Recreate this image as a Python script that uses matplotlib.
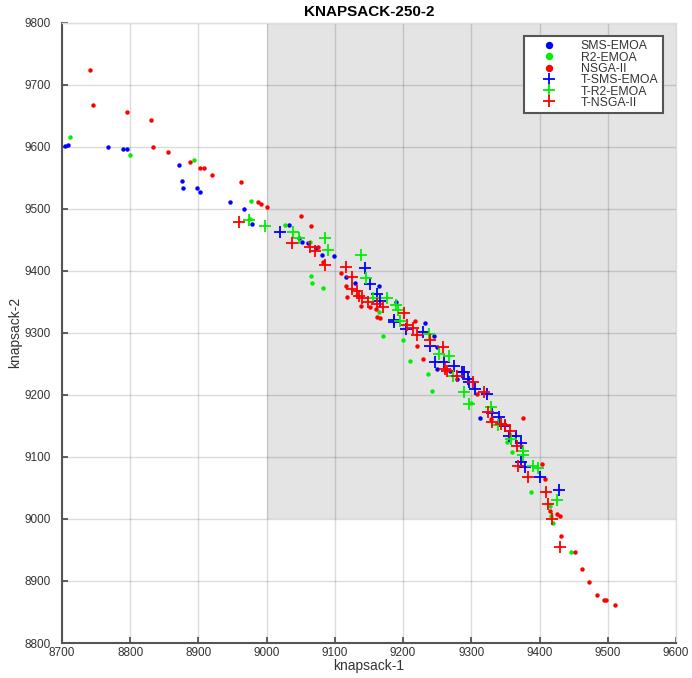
import matplotlib
matplotlib.use("Agg")
import matplotlib.pyplot as plt
from matplotlib.patches import Rectangle
from matplotlib.lines import Line2D

plt.rcParams['font.family'] = ['Liberation Sans', 'DejaVu Sans']

# Final populations (knapsack-1, knapsack-2)
sms_x = [8705, 8709, 8767, 8789, 8795, 8872, 8876, 8878, 8898, 8902, 8946, 8967, 8979,
         9033, 9048, 9052, 9060, 9072, 9081, 9098, 9116, 9129, 9164, 9190, 9232, 9245,
         9249, 9250, 9269, 9279, 9313]
sms_y = [9601, 9603, 9600, 9596, 9596, 9571, 9545, 9534, 9534, 9527, 9510, 9500, 9476,
         9474, 9453, 9447, 9445, 9437, 9425, 9423, 9390, 9381, 9376, 9350, 9315, 9295,
         9277, 9241, 9239, 9225, 9162]

r2_x = [8711, 8800, 8894, 8977, 8975, 9027, 9063, 9065, 9067, 9082, 9132, 9164, 9170,
        9200, 9210, 9236, 9242, 9300, 9352, 9359, 9387, 9416, 9417, 9420, 9446]
r2_y = [9616, 9587, 9579, 9512, 9484, 9474, 9447, 9392, 9381, 9372, 9361, 9334, 9294,
        9288, 9254, 9233, 9206, 9187, 9124, 9108, 9044, 9021, 9005, 8993, 8946]

nsga_x = [8741, 8745, 8796, 8831, 8834, 8856, 8888, 8902, 8908, 8920, 8962, 8987, 8991,
          9001, 9051, 9065, 9075, 9083, 9109, 9116, 9118, 9138, 9152, 9160, 9162, 9166,
          9217, 9220, 9229, 9309, 9329, 9375, 9403, 9408, 9416, 9426, 9430, 9432, 9452,
          9462, 9472, 9484, 9494, 9497, 9510]
nsga_y = [9724, 9667, 9656, 9643, 9600, 9592, 9576, 9565, 9565, 9554, 9543, 9510, 9507,
          9503, 9488, 9472, 9439, 9414, 9396, 9376, 9358, 9343, 9341, 9338, 9325, 9323,
          9319, 9279, 9257, 9202, 9161, 9162, 9088, 9064, 9013, 9008, 9005, 8973, 8946,
          8919, 8898, 8877, 8870, 8869, 8862]

t_sms_x = [9019, 9144, 9152, 9162, 9166, 9186, 9186, 9204, 9229, 9239, 9246, 9260, 9275,
           9286, 9289, 9295, 9297, 9305, 9323, 9331, 9341, 9349, 9355, 9366, 9373, 9373,
           9379, 9400, 9428]
t_sms_y = [9463, 9405, 9379, 9363, 9351, 9321, 9317, 9306, 9301, 9279, 9253, 9253, 9246,
           9237, 9236, 9226, 9220, 9210, 9201, 9171, 9164, 9149, 9134, 9133, 9122, 9091,
           9083, 9068, 9046]

t_r2_x = [8974, 8998, 9039, 9047, 9085, 9090, 9138, 9146, 9156, 9177, 9189, 9192, 9196,
          9238, 9253, 9267, 9273, 9289, 9297, 9329, 9339, 9358, 9376, 9376, 9390, 9398,
          9425]
t_r2_y = [9481, 9472, 9463, 9453, 9452, 9434, 9426, 9388, 9356, 9356, 9345, 9337, 9319,
          9298, 9265, 9263, 9231, 9205, 9186, 9180, 9151, 9128, 9110, 9103, 9086, 9082,
          9031]

t_nsga_x = [8960, 9037, 9063, 9071, 9085, 9116, 9125, 9125, 9132, 9136, 9140, 9148, 9161,
            9170, 9202, 9206, 9214, 9220, 9239, 9259, 9261, 9264, 9279, 9302, 9319, 9325,
            9331, 9344, 9349, 9356, 9367, 9369, 9383, 9410, 9413, 9418, 9430]
t_nsga_y = [9478, 9444, 9438, 9432, 9410, 9406, 9390, 9371, 9368, 9359, 9356, 9350, 9347,
            9342, 9332, 9313, 9308, 9297, 9288, 9277, 9242, 9238, 9230, 9221, 9204, 9172,
            9156, 9153, 9151, 9142, 9117, 9086, 9068, 9044, 9024, 9000, 8955]

labels = ['SMS-EMOA', 'R2-EMOA', 'NSGA-II', 'T-SMS-EMOA', 'T-R2-EMOA', 'T-NSGA-II']
colors = ['#0000ff', '#00ee00', '#ff0000']

# reference point region
ref_x, ref_y = 9000, 9000

fig = plt.figure(figsize=(6.92, 6.78), dpi=100)
ax = fig.add_axes([0.0896, 0.0516, 0.8873, 0.9152])

ax.set_xlim(8700, 9600)
ax.set_ylim(8800, 9800)
ax.add_patch(Rectangle((ref_x, ref_y), 9600 - ref_x, 9800 - ref_y,
                       facecolor='#e4e4e4', edgecolor='none', zorder=0.2))

ax.set_axisbelow(True)
ax.grid(True, color='black', alpha=0.14, linewidth=1.0)

dot = dict(marker='o', linestyle='none', markersize=3.2, markeredgewidth=0)
plus = dict(marker='+', linestyle='none', markersize=8, markeredgewidth=1.3)

ax.plot(sms_x, sms_y, color=colors[0], **dot)
ax.plot(r2_x, r2_y, color=colors[1], **dot)
ax.plot(nsga_x, nsga_y, color=colors[2], **dot)
ax.plot(t_sms_x, t_sms_y, color=colors[0], **plus)
ax.plot(t_r2_x, t_r2_y, color=colors[1], **plus)
ax.plot(t_nsga_x, t_nsga_y, color=colors[2], **plus)

ax.set_xticks(range(8700, 9601, 100))
ax.set_yticks(range(8800, 9801, 100))
ax.tick_params(direction='in', length=4, width=1.2, color='#444444',
               labelsize=8.5, labelcolor='#333333')
ax.tick_params(axis='y', pad=8)
ax.tick_params(axis='x', pad=3)
for side in ['left', 'bottom']:
    ax.spines[side].set_color('#555555')
    ax.spines[side].set_linewidth(1.5)
for side in ['top', 'right']:
    ax.spines[side].set_color('#dddddd')
    ax.spines[side].set_linewidth(1.0)

ax.set_xlabel('knapsack-1', fontsize=10, color='#333333', labelpad=0)
ax.set_ylabel('knapsack-2', fontsize=10, color='#333333', labelpad=2)
ax.set_title('KNAPSACK-250-2', fontsize=11, fontweight='bold', pad=5)

handles = []
for i, lab in enumerate(labels):
    c = colors[i % 3]
    if i < 3:
        h = Line2D([], [], color=c, marker='o', linestyle='none', markersize=5.3,
                   markeredgewidth=0)
    else:
        h = Line2D([], [], color=c, marker='+', linestyle='none', markersize=8,
                   markeredgewidth=1.3)
    handles.append(h)
leg = ax.legend(handles, labels, loc='upper right', bbox_to_anchor=(0.978, 0.978),
                fontsize=8.8, labelspacing=-0.06, handletextpad=0.9, borderpad=0.35,
                handlelength=3.4, fancybox=False, framealpha=1, borderaxespad=0)
leg.get_frame().set_edgecolor('#555555')
leg.get_frame().set_linewidth(1.5)
for t in leg.get_texts():
    t.set_color('#333333')

fig.savefig('out.png', dpi=100)
